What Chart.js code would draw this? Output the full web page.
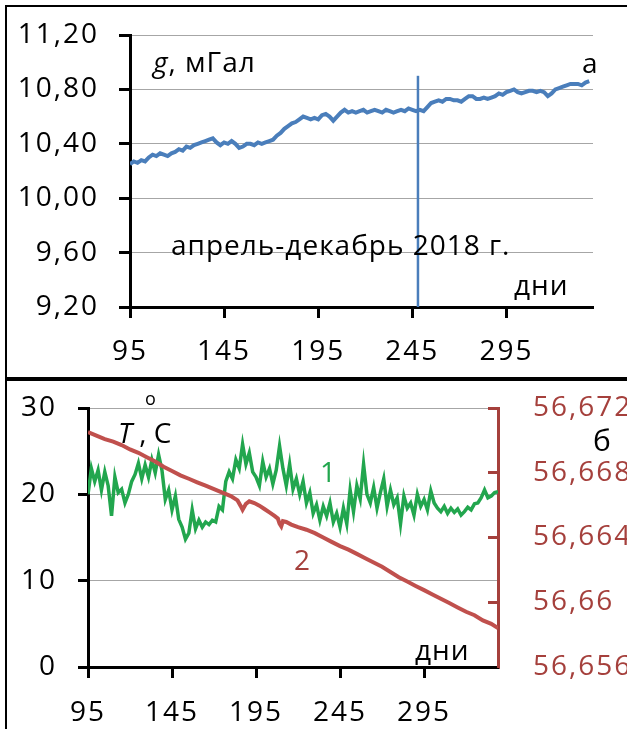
<!DOCTYPE html>
<html>
<head>
<meta charset="utf-8">
<script src="https://cdn.jsdelivr.net/npm/chart.js@4.4.1/dist/chart.umd.min.js"></script>
<style>
  body { margin: 0; background: #fff; width: 627px; height: 729px; position: relative; overflow: hidden; font-family: "Open Sans", sans-serif; }
  .box { position: absolute; left: 0; }
  .t { position: absolute; font-size: 28px; line-height: 1; white-space: nowrap; color: #000; letter-spacing: 1px; }
  .ln { position: absolute; background: #000; }
</style>
</head>
<body>
<div class="box" style="top:0"><canvas id="chartG" width="627" height="378"></canvas></div>
<div class="box" style="top:380px"><canvas id="chartT" width="627" height="349"></canvas></div>

<div class="ln" style="left:5px;top:5px;width:622px;height:2px"></div>
<div class="ln" style="left:5px;top:5px;width:2px;height:724px"></div>
<div class="ln" style="left:5px;top:377px;width:622px;height:4px"></div>

<div class="t" style="left:153px;top:47px"><i>g</i>, мГал</div>
<div class="t" style="left:582px;top:48px">а</div>
<div class="t" style="left:171px;top:230px">апрель-декабрь 2018 г.</div>
<div class="t" style="left:514px;top:270px">дни</div>

<div class="t" style="left:118px;top:418px;letter-spacing:0"><i>T</i> , C</div>
<div class="t" style="left:145px;top:389px;font-size:18px">o</div>
<div class="t" style="left:320px;top:457px;color:#22a64e">1</div>
<div class="t" style="left:294px;top:545px;color:#a5403c">2</div>
<div class="t" style="left:593px;top:425px;font-size:30px">б</div>
<div class="t" style="left:415px;top:635px">дни</div>

<script>
// --- panel a: gravity, every 2nd day from day 95
const gStartDay = 95
const gValues = [
  10.25,10.27,10.26,10.28,10.27,10.30,10.32,10.31,10.33,10.32,
  10.31,10.33,10.34,10.36,10.35,10.38,10.37,10.39,10.40,10.41,
  10.42,10.43,10.44,10.41,10.39,10.41,10.40,10.42,10.40,10.37,
  10.38,10.40,10.40,10.39,10.41,10.40,10.41,10.42,10.43,10.46,
  10.48,10.51,10.53,10.55,10.56,10.58,10.60,10.59,10.58,10.59,
  10.58,10.61,10.62,10.60,10.57,10.60,10.63,10.65,10.63,10.64,
  10.63,10.64,10.65,10.63,10.64,10.65,10.64,10.63,10.65,10.64,
  10.63,10.64,10.65,10.64,10.66,10.65,10.64,10.65,10.64,10.67,
  10.70,10.71,10.72,10.71,10.73,10.73,10.72,10.72,10.71,10.73,
  10.75,10.75,10.73,10.73,10.74,10.73,10.74,10.75,10.77,10.76,
  10.78,10.79,10.80,10.78,10.77,10.78,10.79,10.79,10.78,10.79,
  10.78,10.75,10.77,10.80,10.81,10.82,10.83,10.84,10.84,10.84,
  10.83,10.85,10.86
]
const markerDays = [248, 248]
const markerValues = [9.2, 10.9]
const gTicks = [9.2, 9.6, 10.0, 10.4, 10.8, 11.2]

// --- panel b: temperature (1) and second series (2)
const tStartDay = 95
const tValues = [
  20.0,23.0,21.5,22.8,20.5,22.6,21.0,17.5,22.0,20.2,
  20.6,19.0,20.0,21.5,22.3,23.6,21.8,23.4,22.0,24.0,
  22.5,24.6,22.8,19.4,20.5,18.2,19.8,17.1,16.2,14.8,
  15.5,18.2,16.0,17.0,16.2,16.8,16.5,17.0,16.8,18.6,
  18.2,21.5,22.6,21.8,24.0,23.0,25.8,23.5,24.8,22.6,
  22.0,21.0,23.8,22.0,23.0,21.2,22.8,25.6,23.0,21.0,
  23.5,20.6,21.8,20.0,21.5,19.0,20.2,17.8,18.8,17.0,
  18.6,17.5,19.0,16.8,17.8,16.2,18.4,16.6,20.5,18.0,
  21.0,19.5,23.5,20.0,19.0,20.8,18.4,20.2,21.8,18.6,
  20.5,18.8,19.6,16.6,19.8,18.4,19.0,17.6,20.0,18.6,
  19.4,18.2,20.4,19.0,18.4,18.0,18.6,17.8,18.4,17.9,
  18.3,17.6,18.0,18.5,18.2,18.9,19.0,19.6,20.5,19.6,
  19.8,20.2,20.3
]
const rDays = [
  95,100,105,110,115,120,125,130,135,140,145,150,155,160,165,170,175,180,
  184,186,187,189,191,194,197,200,203,206,208,209,210,211,213,216,
  220,225,230,235,240,245,250,255,260,265,270,275,280,285,290,295,300,305,310,315,320,325,330,335,
  339
]
const rValues = [
  56.67051,56.67029,56.67008,56.66992,56.66971,56.66944,56.66923,56.66896,56.66869,56.66837,56.66811,56.66784,56.66763,56.66741,56.66720,56.66699,56.66677,56.66656,
  56.66629,56.66592,56.66571,56.66608,56.66624,56.66613,56.66597,56.66576,56.66555,56.66533,56.66517,56.66485,56.66469,56.66501,56.66496,56.66480,
  56.66464,56.66448,56.66427,56.66400,56.66373,56.66347,56.66325,56.66299,56.66272,56.66245,56.66219,56.66187,56.66155,56.66128,56.66101,56.66075,56.66048,56.66021,56.65995,56.65968,56.65941,56.65920,56.65888,56.65867,
  56.65840
]
const tTicks = [0, 10, 20, 30]
const rTicks = [56.656, 56.66, 56.664, 56.668, 56.672]
const rTickLabels = ["56,656", "56,66", "56,664", "56,668", "56,672"]
const dayTicks = [95, 145, 195, 245, 295]

const FONT = { family: "'Open Sans', sans-serif", size: 28 }
const BLUE = "#4a7ebb"
const GREEN = "#22a64e"
const RED = "#c0504d"
const BROWN = "#a5403c"

// the source figure uses a wide font; spread the tick labels a little
const spacing = { id: "spacing", beforeDraw(chart) { chart.ctx.letterSpacing = "2px" } }

function setTicks(list) {
    return scale => { scale.ticks = list.map(v => ({ value: v })) }
}

function fixSize(key, size) {
    return s => { s[key] = size; s.paddingTop = 0; s.paddingBottom = 0 }
}

function xAxis(min, max, h, pad) {
    return {
        type: "linear", min: min, max: max,
        afterBuildTicks: setTicks(dayTicks),
        afterFit: s => { s.height = h },
        grid: { drawOnChartArea: false, tickLength: 11, tickColor: "#000", tickWidth: 3 },
        border: { color: "#000", width: 3 },
        ticks: { font: FONT, color: "#000", padding: pad, maxRotation: 0, autoSkip: false, callback: v => String(v) }
    }
}

new Chart(document.getElementById("chartG"), {
    type: "line",
    data: {
        datasets: [
            { data: gValues.map((v, i) => ({ x: gStartDay + 2 * i, y: v })), borderColor: BLUE, borderWidth: 4, pointRadius: 0, tension: 0 },
            { data: markerDays.map((d, i) => ({ x: d, y: markerValues[i] })), borderColor: BLUE, borderWidth: 2.5, pointRadius: 0 }
        ]
    },
    options: {
        responsive: false, animation: false,
        layout: { padding: { top: 35, right: 34, left: 0, bottom: 0 } },
        plugins: { legend: { display: false }, tooltip: { enabled: false } },
        scales: {
            x: xAxis(95, 341, 71, 17),
            y: {
                min: 9.2, max: 11.2,
                afterBuildTicks: setTicks(gTicks),
                afterFit: fixSize("width", 130),
                grid: { color: "#a6a6a6", lineWidth: 1, tickLength: 11, tickColor: "#000", tickWidth: 3 },
                border: { color: "#000", width: 3 },
                ticks: { font: FONT, color: "#000", padding: 20, callback: v => v.toFixed(2).replace(".", ",") }
            }
        }
    },
    plugins: [spacing]
})

new Chart(document.getElementById("chartT"), {
    type: "line",
    data: {
        datasets: [
            { data: rDays.map((d, i) => ({ x: d, y: rValues[i] })), yAxisID: "yR", borderColor: RED, borderWidth: 4, pointRadius: 0, tension: 0 },
            { data: tValues.map((v, i) => ({ x: tStartDay + 2 * i, y: v })), yAxisID: "y", borderColor: GREEN, borderWidth: 3.5, pointRadius: 0, tension: 0 }
        ]
    },
    options: {
        responsive: false, animation: false,
        layout: { padding: { top: 28, right: 0, left: 0, bottom: 0 } },
        plugins: { legend: { display: false }, tooltip: { enabled: false } },
        scales: {
            x: xAxis(95, 339, 62, 18),
            y: {
                position: "left", min: 0, max: 30,
                afterBuildTicks: setTicks(tTicks),
                afterFit: fixSize("width", 88),
                grid: { color: "#a6a6a6", lineWidth: 1, tickLength: 10, tickColor: "#000", tickWidth: 3 },
                border: { color: "#000", width: 3 },
                ticks: { font: FONT, color: "#000", padding: 21, callback: v => String(v) }
            },
            yR: {
                position: "right", min: 56.656, max: 56.672,
                afterBuildTicks: setTicks(rTicks),
                afterFit: fixSize("width", 129),
                grid: { drawOnChartArea: false, tickLength: -10, tickColor: BROWN, tickWidth: 3 },
                border: { color: BROWN, width: 3 },
                ticks: { font: FONT, color: BROWN, padding: 45, callback: (v, i) => rTickLabels[i] }
            }
        }
    },
    plugins: [spacing]
})
</script>
</body>
</html>
